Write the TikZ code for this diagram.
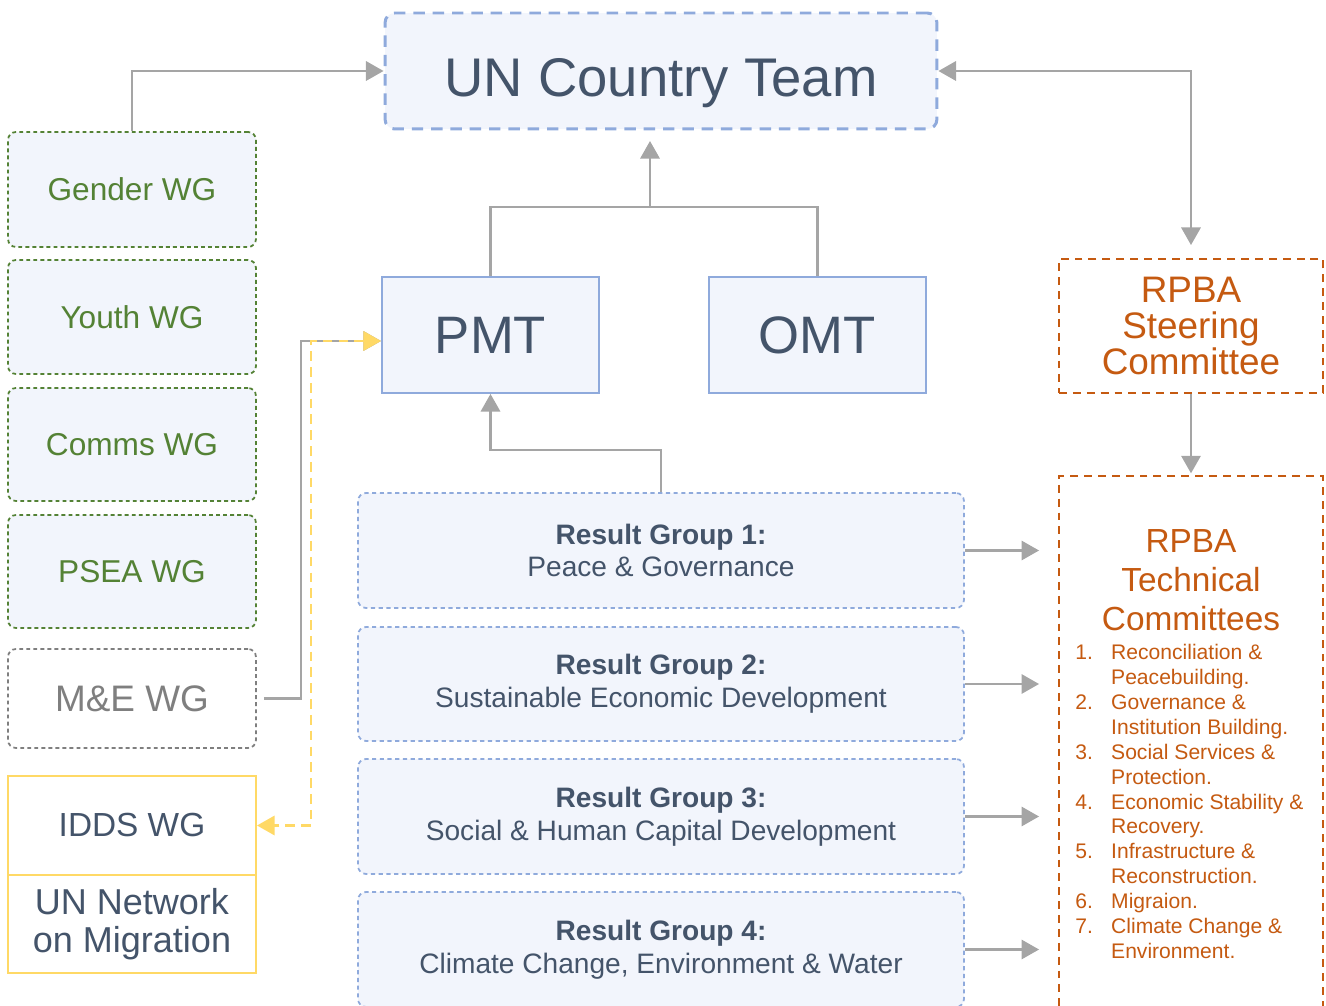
\documentclass[tikz,border=0pt]{standalone}
\usepackage{fontspec}
\setmainfont{Liberation Sans}
\usetikzlibrary{arrows.meta}

\definecolor{unfill}{HTML}{F2F5FC}
\definecolor{unblue}{HTML}{8FAADC}
\definecolor{slate}{HTML}{44546A}
\definecolor{wggreen}{HTML}{548235}
\definecolor{wggray}{HTML}{7F7F7F}
\definecolor{rpbaorange}{HTML}{C55A11}
\definecolor{linkgray}{HTML}{A5A5A5}
\definecolor{iddsyellow}{HTML}{FFD966}

\tikzset{
	unctbox/.style={draw=unblue, fill=unfill, line width=1.7pt, dash pattern=on 6.5pt off 4.5pt,
		rounded corners=5.5pt, minimum width=11.04cm, minimum height=2.32cm,
		text height=29pt, text depth=0pt,
		text=slate, font=\fontsize{31}{34}\selectfont},
	wgbox/.style={draw=wggreen, fill=unfill, line width=1pt, dash pattern=on 2.2pt off 1.8pt,
		rounded corners=4.5pt, minimum width=4.96cm, text=wggreen, font=\fontsize{18}{21}\selectfont},
	mebox/.style={wgbox, draw=wggray, fill=white, text=wggray, font=\fontsize{21}{24}\selectfont},
	iddsbox/.style={draw=iddsyellow, fill=white, line width=1.2pt, minimum width=4.96cm,
		text=slate, align=center, font=\fontsize{19}{21.5}\selectfont},
	mgmtbox/.style={draw=unblue, fill=unfill, line width=1.1pt, minimum width=4.34cm,
		minimum height=2.32cm, text=slate, font=\fontsize{30}{34}\selectfont},
	rgbox/.style={draw=unblue, fill=unfill, line width=1pt, dash pattern=on 2.4pt off 2pt,
		rounded corners=4.5pt, minimum width=12.12cm, text=slate, align=center,
		font=\fontsize{16}{18.7}\selectfont},
	rpbabox/.style={draw=rpbaorange, fill=white, line width=1.1pt, dash pattern=on 4.5pt off 3.4pt,
		minimum width=5.28cm, text=rpbaorange, align=center},
	conn/.style={draw=linkgray, line width=1.3pt, -{Triangle[length=10pt, width=11pt]}},
	iddslink/.style={draw=iddsyellow, line width=1.3pt, dash pattern=on 5.5pt off 3.5pt,
		{Triangle[length=10pt, width=11pt]}-{Triangle[length=10pt, width=11pt]}}
}

\begin{document}
\begin{tikzpicture}[x=0.02cm, y=-0.02cm]

	% frame of the page (pixel grid, y going down)
	\useasboundingbox (0,0) rectangle (1326,1006);
	\clip (0,0) rectangle (1326,1006);

	% country team
	\node[unctbox] (unct) at (661,71) {UN Country Team};

	% working groups
	\node[wgbox, minimum height=2.3cm]  (gender) at (132,189.5) {Gender WG};
	\node[wgbox, minimum height=2.28cm] (youth)  at (132,317)   {Youth WG};
	\node[wgbox, minimum height=2.26cm] (comms)  at (132,444.5) {Comms WG};
	\node[wgbox, minimum height=2.26cm] (psea)   at (132,571.5) {PSEA WG};
	\node[mebox, minimum height=1.98cm] (me)     at (132,698.5) {M\&E WG};
	\node[iddsbox, minimum height=1.98cm] (idds) at (132,825.5) {IDDS WG};
	\node[iddsbox, minimum height=1.96cm, font=\fontsize{20.5}{21.5}\selectfont] (unnet) at (132,924)
		{UN Network\\on Migration};

	% management teams
	\node[mgmtbox] (pmt) at (490.5,335) {PMT};
	\node[mgmtbox] (omt) at (817.5,335) {OMT};

	% result groups
	\node[rgbox, minimum height=2.3cm]  (rg1) at (661,550.5)
		{{\bfseries Result Group 1:}\\Peace \& Governance};
	\node[rgbox, minimum height=2.28cm] (rg2) at (661,684)
		{{\bfseries Result Group 2:}\\Sustainable Economic Development};
	\node[rgbox, minimum height=2.3cm]  (rg3) at (661,816.5)
		{{\bfseries Result Group 3:}\\Social \& Human Capital Development};
	\node[rgbox, minimum height=2.3cm]  (rg4) at (661,949.5)
		{{\bfseries Result Group 4:}\\Climate Change, Environment \& Water};

	% RPBA
	\node[rpbabox, minimum height=2.68cm, font=\fontsize{21}{20.7}\selectfont] (rpbasc) at (1191,326)
		{RPBA\\Steering\\Committee};
	\node[rpbabox, minimum height=11.2cm] (rpbatc) at (1191,756) {};
	\node[text=rpbaorange, align=center, font=\fontsize{19}{22.1}\selectfont] (tctitle) at (1191,580)
		{RPBA\\Technical\\Committees};
	\node[text=rpbaorange, anchor=north west, inner sep=0pt, font=\fontsize{12}{14.2}\selectfont] (tclist)
		at (1075,641.5) {%
		\begin{tabular}{@{}p{20.4pt}@{}l@{}}
			1. & Reconciliation \& \\
			   & Peacebuilding. \\
			2. & Governance \& \\
			   & Institution Building. \\
			3. & Social Services \& \\
			   & Protection. \\
			4. & Economic Stability \& \\
			   & Recovery. \\
			5. & Infrastructure \& \\
			   & Reconstruction. \\
			6. & Migraion. \\
			7. & Climate Change \& \\
			   & Environment.
		\end{tabular}};

	%% links %%
	\coordinate (mgmt) at (650,207);
	\draw[conn] (gender.north) |- (unct.west);
	\draw[conn, -] (pmt.north) |- (mgmt) -| (omt.north);
	\draw[conn, shorten >=6pt] (mgmt) -- (mgmt |- unct.south);
	\draw[conn, {Triangle[length=10pt, width=11pt]}-{Triangle[length=10pt, width=11pt]}, shorten >=7.4pt]
		(unct.east) -| (rpbasc.north);
	\draw[conn, shorten >=1pt] (rpbasc.south) -- (rpbatc.north);
	\draw[conn] (rg1.north) -- ++(0,-42) -| (pmt.south);
	\draw[conn, shorten <=4pt] (me.east) -- ++(44,0) |- ([yshift=-0.12cm]pmt.west);
	\draw[iddslink] ([yshift=-0.12cm]pmt.west) -- ++(-70,0) |- (idds.east);

	% result groups to technical committees
	\draw[conn, shorten >=0.38cm] (rg1.east) -- (rg1.east -| rpbatc.west);
	\draw[conn, shorten >=0.38cm] (rg2.east) -- (rg2.east -| rpbatc.west);
	\draw[conn, shorten >=0.38cm] (rg3.east) -- (rg3.east -| rpbatc.west);
	\draw[conn, shorten >=0.38cm] (rg4.east) -- (rg4.east -| rpbatc.west);

\end{tikzpicture}
\end{document}
